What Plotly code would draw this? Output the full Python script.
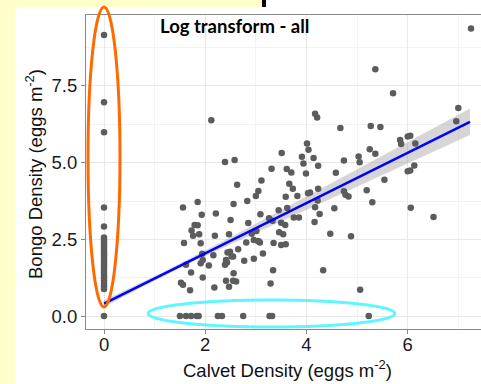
import numpy as np
import plotly.graph_objects as go

# ---- data ----
calvet = [
    # x = 0 column
    0, 0, 0, 0, 0, 0, 0, 0, 0, 0, 0, 0, 0, 0, 0, 0, 0, 0, 0, 0, 0, 0, 0, 0, 0, 0, 0, 0,
    # y = 0 row
    1.50, 1.62, 1.72, 1.83, 1.87, 2.25, 2.33, 2.75, 3.27, 3.32, 5.23,
    # scattered points
    7.25, 5.36, 5.71, 7.00, 6.96, 4.17, 4.21, 4.67, 5.27, 5.46, 2.12,
    5.85, 5.87, 6.00, 6.05, 6.15, 4.01, 4.04, 5.25, 5.36, 5.03, 5.05,
    4.74, 4.58, 3.91, 4.14, 3.94, 4.23, 3.99, 3.51, 3.31, 3.61, 3.70,
    2.39, 2.58, 2.63, 3.11, 3.05, 3.00, 5.54, 6.13, 6.00, 6.05, 4.23,
    4.74, 4.77, 4.83, 5.19, 4.07, 5.30, 3.66, 3.73, 3.59, 3.82, 4.22,
    4.17, 4.26, 4.16, 4.55, 4.47, 4.88, 6.06, 6.51, 4.33, 5.06, 2.83,
    2.56, 1.85, 1.56, 1.93, 2.21, 2.50, 3.09, 3.45, 3.62, 3.75, 3.85,
    3.26, 3.33, 4.03, 2.85, 1.79, 1.85, 1.73, 1.88, 1.76, 1.58, 1.91,
    2.19, 2.47, 2.92, 3.01, 3.04, 3.08, 2.81, 3.46, 3.54, 3.50, 3.58,
    3.35, 3.50, 3.59, 2.65, 2.44, 2.49, 2.55, 2.41, 2.43, 2.16, 1.94,
    1.91, 1.95, 2.07, 2.77, 2.96, 3.14, 1.62, 1.72, 1.95, 1.52, 1.56,
    1.70, 2.18, 2.41, 2.47, 2.56, 2.55, 2.61, 3.34, 3.29, 2.96, 3.06,
    2.52, 2.39,
]
bongo = [
    # x = 0 column
    9.16, 6.97, 5.99, 3.54, 2.92, 2.56, 2.49, 2.42, 2.35, 2.28, 2.20, 2.12, 2.05, 1.98,
    1.90, 1.82, 1.74, 1.66, 1.58, 1.50, 1.42, 1.33, 1.24, 1.15, 1.06, 0.97, 0.88, 0.0,
    # y = 0 row
    0, 0, 0, 0, 0, 0, 0, 0, 0, 0, 0,
    # scattered points
    9.37, 8.04, 7.26, 6.78, 6.35, 6.59, 6.47, 6.13, 6.19, 6.16, 6.38,
    5.74, 5.61, 5.85, 5.88, 5.62, 5.62, 5.42, 5.44, 5.29, 5.20, 5.01,
    5.07, 4.67, 5.19, 5.15, 4.97, 4.90, 4.65, 5.31, 4.80, 4.79, 4.68,
    5.02, 5.09, 4.28, 4.42, 4.08, 3.91, 4.44, 4.91, 4.72, 4.74, 4.15,
    4.07, 3.95, 3.90, 4.10, 4.03, 3.71, 4.31, 4.15, 3.89, 3.91, 3.77,
    3.55, 3.33, 3.07, 3.51, 2.68, 2.60, 3.53, 3.23, 1.49, 0.86, 3.75,
    3.65, 3.72, 3.54, 3.30, 3.34, 3.13, 3.32, 3.45, 3.52, 3.21, 3.21,
    3.19, 3.11, 4.00, 3.03, 2.97, 2.96, 2.79, 2.67, 2.62, 2.38, 2.37,
    2.62, 2.67, 2.68, 2.77, 2.45, 2.40, 2.40, 2.73, 2.67, 3.04, 2.97,
    2.38, 2.32, 2.34, 2.18, 2.07, 2.10, 1.94, 1.83, 1.75, 1.98, 2.03,
    1.72, 1.83, 1.65, 1.80, 1.87, 2.04, 1.67, 1.42, 1.26, 1.09, 1.02,
    0.84, 0.93, 1.15, 0.96, 1.40, 1.15, 1.13, 1.49, 1.06, 2.48, 2.43,
    1.94, 1.67,
]

# linear fit: intercept, slope, x-extent, CI shape
fit_intercept = 0.41
fit_slope = 0.819
fit_xrange = [0.0, 7.23]
ci_center, ci_min2, ci_end = 1.2, 0.005, 0.43

x_ticks = [0, 2, 4, 6]
x_ticklabels = ["0", "2", "4", "6"]
y_ticks = [0, 2.5, 5.0, 7.5]
y_ticklabels = ["0.0", "2.5", "5.0", "7.5"]

title_text = "Log transform - all"
x_title = "Calvet Density (eggs m<sup>-2</sup>)"
y_title = "Bongo Density (eggs m<sup>-2</sup>)"

# ---- layout geometry (pixels) ----
W, H = 481, 384
L, R, T, B = 86, 0, 15, 55
PW, PH = W - L - R, H - T - B


def px(xp):
    return (xp - L) / PW


def py(yp):
    return (H - B - yp) / PH


fx = np.linspace(fit_xrange[0], fit_xrange[1], 80)
fy = fit_intercept + fit_slope * fx
dcoef = (ci_end ** 2 - ci_min2) / (fit_xrange[1] - ci_center) ** 2
hw = np.sqrt(ci_min2 + dcoef * (fx - ci_center) ** 2)

fig = go.Figure()
fig.add_trace(go.Scatter(
    x=np.concatenate([fx, fx[::-1]]),
    y=np.concatenate([fy + hw, (fy - hw)[::-1]]),
    fill="toself", fillcolor="rgba(153,153,153,0.4)",
    line=dict(width=0), mode="lines", hoverinfo="skip", showlegend=False))
fig.add_trace(go.Scatter(
    x=calvet, y=bongo, mode="markers",
    marker=dict(size=6.5, color="#5c5c5c", line=dict(width=0)),
    showlegend=False))
fig.add_trace(go.Scatter(
    x=fx, y=fy, mode="lines", line=dict(color="#0000ff", width=2.5),
    showlegend=False))

axis_common = dict(
    showgrid=True, gridcolor="#e8e8e8", gridwidth=1,
    minor=dict(showgrid=True, gridcolor="#f2f2f2", gridwidth=0.7),
    zeroline=False, showline=True, linecolor="#8a8a8a", linewidth=1.2,
    ticks="outside", ticklen=4, tickcolor="#8a8a8a", tickwidth=1,
    tickfont=dict(family="Liberation Sans, Arial", size=18.5, color="#1a1a1a"),
)
fig.update_xaxes(range=[-0.356, 7.448], tickvals=x_ticks, ticktext=x_ticklabels,
                 mirror=True, minor_dtick=1, minor_tick0=1, ticklabelstandoff=-5,
                 **axis_common)
fig.update_yaxes(range=[-0.42, 9.81], tickvals=y_ticks, ticktext=y_ticklabels,
                 minor_dtick=2.5, minor_tick0=1.25, **axis_common)

yellow = "#ffffcc"
shapes = [
    dict(type="rect", xref="paper", yref="paper", x0=px(0), x1=px(15), y0=py(H), y1=py(0),
         fillcolor=yellow, line=dict(width=0), layer="above"),
    dict(type="rect", xref="paper", yref="paper", x0=px(0), x1=px(262), y0=py(7), y1=py(0),
         fillcolor=yellow, line=dict(width=0), layer="above"),
    dict(type="rect", xref="paper", yref="paper", x0=px(262), x1=px(266), y0=py(7), y1=py(0),
         fillcolor="#000000", line=dict(width=0), layer="above"),
    dict(type="circle", xref="paper", yref="paper", x0=px(88), x1=px(120), y0=py(307), y1=py(7),
         line=dict(color="#ff6a00", width=3), layer="above"),
    dict(type="circle", xref="paper", yref="paper", x0=px(148), x1=px(395), y0=py(327), y1=py(300),
         line=dict(color="#5ef6ff", width=3), layer="above"),
]

annotations = [
    dict(text="<b>" + title_text + "</b>", xref="paper", yref="paper", x=px(234), y=py(26),
         showarrow=False, xanchor="center", yanchor="middle",
         font=dict(family="Lato, Open Sans", size=18.5, color="#000000")),
    dict(text=x_title, xref="paper", yref="paper", x=px(287), y=py(369),
         showarrow=False, xanchor="center", yanchor="middle",
         font=dict(family="Liberation Sans, Arial", size=18.5, color="#111111")),
    dict(text=y_title, xref="paper", yref="paper", x=px(34), y=py(174),
         showarrow=False, xanchor="center", yanchor="middle", textangle=-90,
         font=dict(family="Liberation Sans, Arial", size=18.5, color="#111111")),
]

fig.update_layout(
    width=W, height=H, margin=dict(l=L, r=R, t=T, b=B, pad=0),
    paper_bgcolor="#ffffff", plot_bgcolor="#ffffff",
    shapes=shapes, annotations=annotations, showlegend=False,
)

fig.write_html("out.html", config={"displayModeBar": False})
